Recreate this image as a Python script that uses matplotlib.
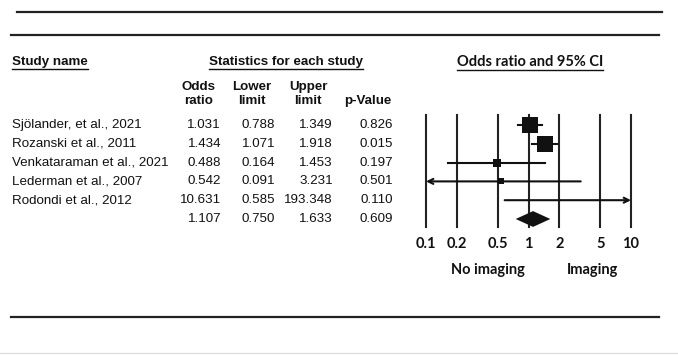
import matplotlib
matplotlib.use("Agg")
import matplotlib.pyplot as plt
import numpy as np

# study data
studies = ["Sjölander, et al., 2021", "Rozanski et al., 2011", "Venkataraman et al., 2021",
           "Lederman et al., 2007", "Rodondi et al., 2012"]
odds = [1.031, 1.434, 0.488, 0.542, 10.631]
lower = [0.788, 1.071, 0.164, 0.091, 0.585]
upper = [1.349, 1.918, 1.453, 3.231, 193.348]
pvals = [0.826, 0.015, 0.197, 0.501, 0.110]
weights = [41.0, 40.5, 10.5, 5.5, 2.5]  # relative weight (%), sets square size

# pooled estimate
pooled_or = 1.107
pooled_lo = 0.750
pooled_hi = 1.633
pooled_p = 0.609

ticks = [0.1, 0.2, 0.5, 1, 2, 5, 10]
tick_labels = ["0.1", "0.2", "0.5", "1", "2", "5", "10"]

W, H = 678, 355
row0, pitch = 125, 18.8
table_font = "Liberation Sans"
plot_font = "Lato"
ink = "#111111"
fs_table = 9.6
fs_plot = 10.5

fig = plt.figure(figsize=(W / 100, H / 100), dpi=100)
fig.patch.set_facecolor("white")

# background axes in pixel coordinates for the table part
ax0 = fig.add_axes([0, 0, 1, 1])
ax0.set_xlim(0, W)
ax0.set_ylim(H, 0)
ax0.axis("off")

# frame lines
ax0.plot([17, 662], [12, 12], color="#222222", lw=1.6)
ax0.plot([11, 659], [35, 35], color="#222222", lw=1.6)
ax0.plot([11, 659], [317, 317], color="#222222", lw=1.6)
ax0.plot([0, W], [353, 353], color="#dddddd", lw=1.0)

underlined = []
underlined.append(ax0.text(12, 62, "Study name", fontsize=fs_table, fontweight="bold",
                           family=table_font, color=ink, va="center", ha="left"))
underlined.append(ax0.text(286, 62, "Statistics for each study", fontsize=fs_table, fontweight="bold",
                           family=table_font, color=ink, va="center", ha="center"))
underlined.append(ax0.text(530, 62, "Odds ratio and 95% CI", fontsize=fs_plot, fontweight="bold",
                           family=plot_font, color=ink, va="center", ha="center"))

col_heads = ["Odds\nratio", "Lower\nlimit", "Upper\nlimit", "p-Value"]
head_x = [199, 252, 308, 368]
for hx, ht in zip(head_x, col_heads):
    if "\n" in ht:
        top, bot = ht.split("\n")
        ax0.text(hx, 87, top, fontsize=fs_table, fontweight="bold", family=table_font,
                 color=ink, ha="center", va="center")
        ax0.text(hx, 101, bot, fontsize=fs_table, fontweight="bold", family=table_font,
                 color=ink, ha="center", va="center")
    else:
        ax0.text(hx, 101, ht, fontsize=fs_table, fontweight="bold", family=table_font,
                 color=ink, ha="center", va="center")

col_right = [221, 275, 333, 393]
for i, name in enumerate(studies):
    y = row0 + pitch * i
    ax0.text(12, y, name, fontsize=fs_table, family=table_font, color=ink, va="center", ha="left")
    for cx, v in zip(col_right, [odds[i], lower[i], upper[i], pvals[i]]):
        ax0.text(cx, y, "{:.3f}".format(v), fontsize=fs_table, family=table_font,
                 color=ink, va="center", ha="right")
y = row0 + pitch * len(studies)
for cx, v in zip(col_right, [pooled_or, pooled_lo, pooled_hi, pooled_p]):
    ax0.text(cx, y, "{:.3f}".format(v), fontsize=fs_table, family=table_font,
             color=ink, va="center", ha="right")

ax0.text(488, 270, "No imaging", fontsize=fs_plot, fontweight="bold", family=plot_font,
         color=ink, ha="center", va="center")
ax0.text(593, 270, "Imaging", fontsize=fs_plot, fontweight="bold", family=plot_font,
         color=ink, ha="center", va="center")

# forest plot axes
x_left, x_right = 426, 631
y_top, y_bot = 115, 227
ax = fig.add_axes([x_left / W, 1 - y_bot / H, (x_right - x_left) / W, (y_bot - y_top) / H])
ax.set_xscale("log")
ax.set_xlim(0.1, 10)
ax.set_ylim(5 + (y_bot - (row0 + 5 * pitch)) / pitch, -(row0 - y_top) / pitch)
ax.patch.set_alpha(0)
for s in ax.spines.values():
    s.set_visible(False)
ax.set_yticks([])
ax.set_xticks(ticks)
ax.set_xticklabels(tick_labels, fontsize=fs_plot, fontweight="bold", family=plot_font, color=ink)
ax.xaxis.set_minor_locator(matplotlib.ticker.NullLocator())
ax.tick_params(axis="x", length=0, pad=7.5)

for t in ticks:
    ax.axvline(t, color="#222222", lw=1.5, clip_on=False, zorder=1)

xmin, xmax = ax.get_xlim()
for i in range(len(studies)):
    lo = max(lower[i], xmin)
    hi = min(upper[i], xmax)
    if lower[i] < xmin:
        ax.annotate("", xy=(lo, i), xytext=(hi, i), annotation_clip=False,
                    arrowprops=dict(arrowstyle="->", lw=1.5, color="#111111",
                                    shrinkA=0, shrinkB=0, mutation_scale=9))
    elif upper[i] > xmax:
        ax.annotate("", xy=(hi, i), xytext=(lo, i), annotation_clip=False,
                    arrowprops=dict(arrowstyle="->", lw=1.5, color="#111111",
                                    shrinkA=0, shrinkB=0, mutation_scale=9))
    else:
        ax.plot([lo, hi], [i, i], color="#111111", lw=1.5, zorder=2)
    side_px = 2.5 * np.sqrt(weights[i])
    ax.plot(odds[i], i, marker="s", ms=side_px * 0.72, mew=0, color="#111111", zorder=3)

k = len(studies)
dh = 0.42
ax.fill([pooled_lo, pooled_or, pooled_hi, pooled_or],
        [k, k - dh, k, k + dh], color="#111111", zorder=3, lw=0)

# underline the section headers
fig.canvas.draw()
r = fig.canvas.get_renderer()
for t in underlined:
    bb = t.get_window_extent(renderer=r)
    ax0.plot([bb.x0, bb.x1], [H - bb.y0 + 0.5, H - bb.y0 + 0.5], color=ink, lw=1.0)

fig.savefig("out.png", dpi=100)
